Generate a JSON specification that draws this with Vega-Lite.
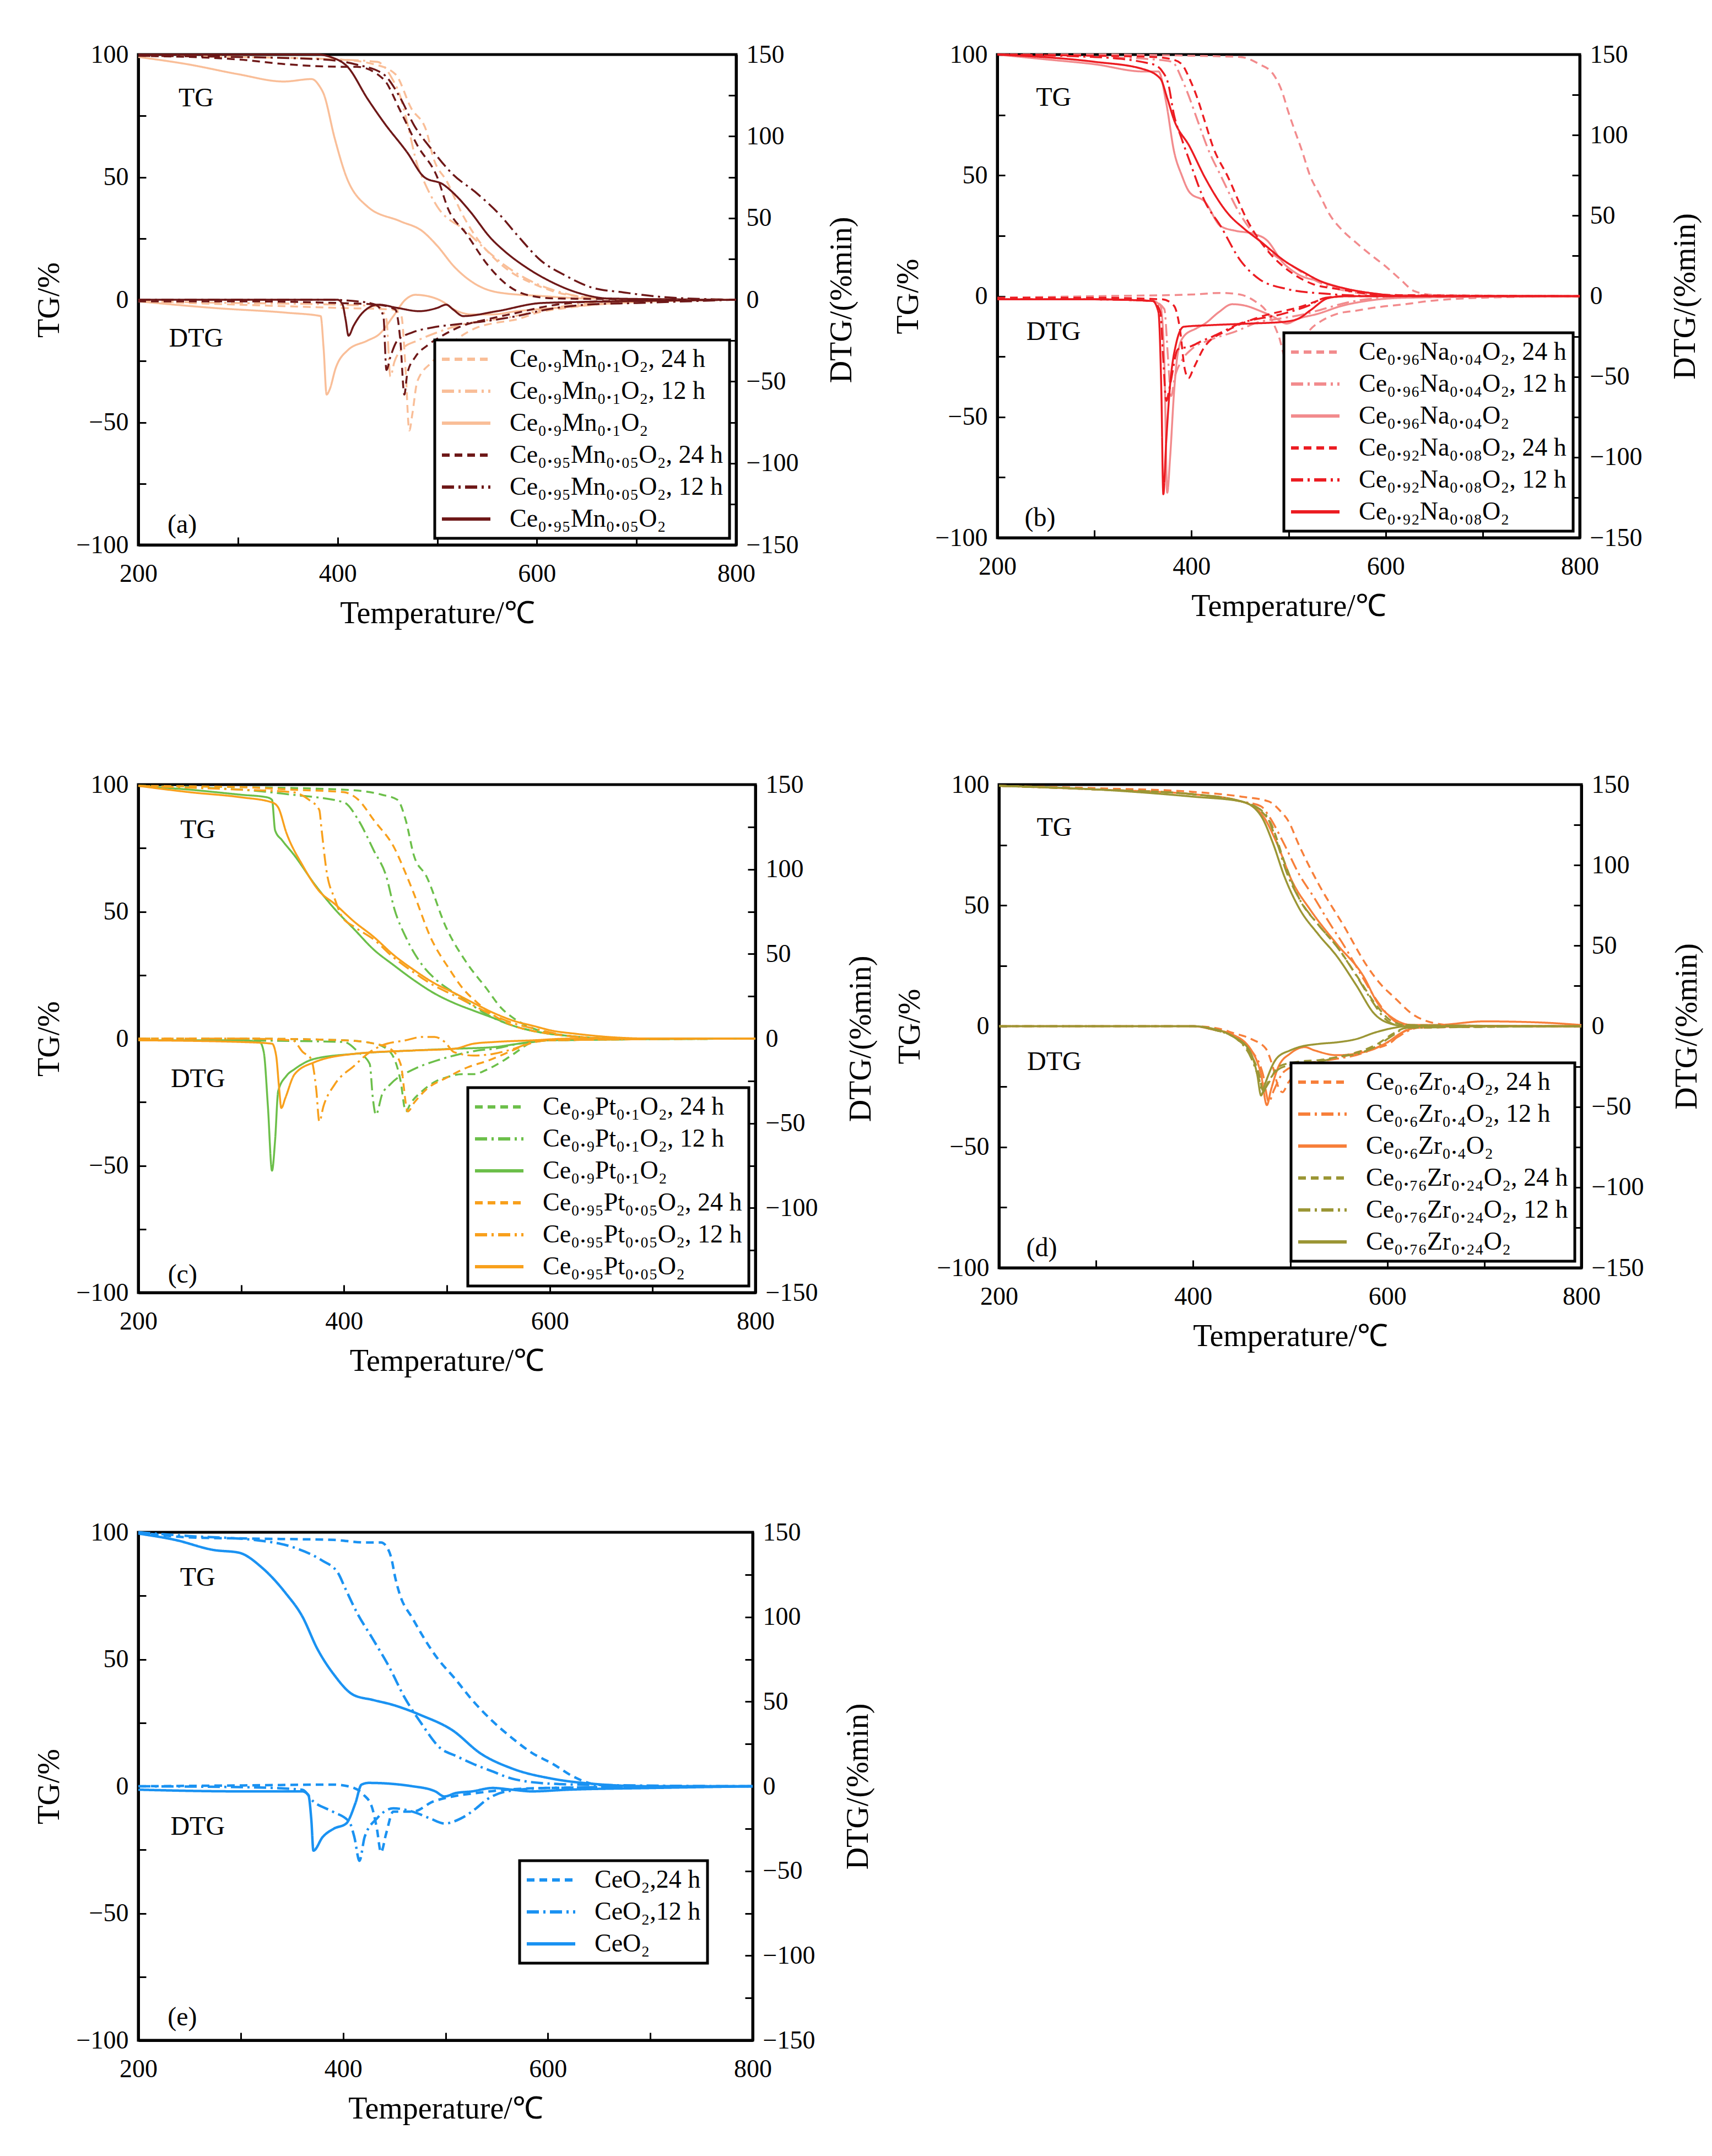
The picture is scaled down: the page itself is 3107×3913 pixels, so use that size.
{
  "$schema": "https://vega.github.io/schema/vega-lite/v6.json",
  "background": "white",
  "padding": {"left": 58, "top": 73, "right": 10, "bottom": 10},
  "datasets": {
    "names": [
      {"s": "a1", "n": "Ce₀.₉Mn₀.₁O₂, 24 h"}, {"s": "a2", "n": "Ce₀.₉Mn₀.₁O₂, 12 h"}, {"s": "a3", "n": "Ce₀.₉Mn₀.₁O₂"},
      {"s": "a4", "n": "Ce₀.₉₅Mn₀.₀₅O₂, 24 h"}, {"s": "a5", "n": "Ce₀.₉₅Mn₀.₀₅O₂, 12 h"}, {"s": "a6", "n": "Ce₀.₉₅Mn₀.₀₅O₂"},
      {"s": "b1", "n": "Ce₀.₉₆Na₀.₀₄O₂, 24 h"}, {"s": "b2", "n": "Ce₀.₉₆Na₀.₀₄O₂, 12 h"}, {"s": "b3", "n": "Ce₀.₉₆Na₀.₀₄O₂"},
      {"s": "b4", "n": "Ce₀.₉₂Na₀.₀₈O₂, 24 h"}, {"s": "b5", "n": "Ce₀.₉₂Na₀.₀₈O₂, 12 h"}, {"s": "b6", "n": "Ce₀.₉₂Na₀.₀₈O₂"},
      {"s": "c1", "n": "Ce₀.₉Pt₀.₁O₂, 24 h"}, {"s": "c2", "n": "Ce₀.₉Pt₀.₁O₂, 12 h"}, {"s": "c3", "n": "Ce₀.₉Pt₀.₁O₂"},
      {"s": "c4", "n": "Ce₀.₉₅Pt₀.₀₅O₂, 24 h"}, {"s": "c5", "n": "Ce₀.₉₅Pt₀.₀₅O₂, 12 h"}, {"s": "c6", "n": "Ce₀.₉₅Pt₀.₀₅O₂"},
      {"s": "d1", "n": "Ce₀.₆Zr₀.₄O₂, 24 h"}, {"s": "d2", "n": "Ce₀.₆Zr₀.₄O₂, 12 h"}, {"s": "d3", "n": "Ce₀.₆Zr₀.₄O₂"},
      {"s": "d4", "n": "Ce₀.₇₆Zr₀.₂₄O₂, 24 h"}, {"s": "d5", "n": "Ce₀.₇₆Zr₀.₂₄O₂, 12 h"}, {"s": "d6", "n": "Ce₀.₇₆Zr₀.₂₄O₂"},
      {"s": "e1", "n": "CeO₂,24 h"}, {"s": "e2", "n": "CeO₂,12 h"}, {"s": "e3", "n": "CeO₂"}
    ],
    "curves": [
      {"s":"a1","t":200,"g":99.5},{"s":"a1","t":300,"g":99},{"s":"a1","t":400,"g":98},{"s":"a1","t":437,"g":96},{"s":"a1","t":458,"g":92},{"s":"a1","t":474,"g":78},{"s":"a1","t":489,"g":69},{"s":"a1","t":496,"g":58},{"s":"a1","t":510,"g":48},{"s":"a1","t":525,"g":35},{"s":"a1","t":540,"g":25},{"s":"a1","t":557,"g":17},{"s":"a1","t":575,"g":11},{"s":"a1","t":594,"g":7},{"s":"a1","t":620,"g":3},{"s":"a1","t":650,"g":1},{"s":"a1","t":700,"g":0},{"s":"a1","t":800,"g":0},
      {"s":"a1","t":200,"d":-1},{"s":"a1","t":300,"d":-3},{"s":"a1","t":400,"d":-5},{"s":"a1","t":455,"d":-6},{"s":"a1","t":464,"d":-10},{"s":"a1","t":468,"d":-40},{"s":"a1","t":472,"d":-80},{"s":"a1","t":475,"d":-70},{"s":"a1","t":480,"d":-50},{"s":"a1","t":495,"d":-38},{"s":"a1","t":505,"d":-32},{"s":"a1","t":520,"d":-24},{"s":"a1","t":540,"d":-17},{"s":"a1","t":560,"d":-14},{"s":"a1","t":580,"d":-12},{"s":"a1","t":600,"d":-8},{"s":"a1","t":630,"d":-5},{"s":"a1","t":680,"d":-2},{"s":"a1","t":800,"d":0},
      {"s":"a2","t":200,"g":99.5},{"s":"a2","t":300,"g":99},{"s":"a2","t":400,"g":98},{"s":"a2","t":440,"g":97},{"s":"a2","t":455,"g":90},{"s":"a2","t":462,"g":84},{"s":"a2","t":470,"g":72},{"s":"a2","t":480,"g":55},{"s":"a2","t":487,"g":48},{"s":"a2","t":500,"g":38},{"s":"a2","t":529,"g":28},{"s":"a2","t":550,"g":20},{"s":"a2","t":568,"g":14},{"s":"a2","t":592,"g":8},{"s":"a2","t":616,"g":4},{"s":"a2","t":650,"g":1},{"s":"a2","t":700,"g":0},{"s":"a2","t":800,"g":0},
      {"s":"a2","t":200,"d":-1},{"s":"a2","t":300,"d":-2},{"s":"a2","t":400,"d":-3},{"s":"a2","t":440,"d":-4},{"s":"a2","t":449,"d":-12},{"s":"a2","t":453,"d":-47},{"s":"a2","t":457,"d":-38},{"s":"a2","t":465,"d":-30},{"s":"a2","t":480,"d":-25},{"s":"a2","t":500,"d":-20},{"s":"a2","t":520,"d":-16},{"s":"a2","t":545,"d":-13},{"s":"a2","t":570,"d":-11},{"s":"a2","t":600,"d":-7},{"s":"a2","t":640,"d":-3},{"s":"a2","t":700,"d":-1},{"s":"a2","t":800,"d":0},
      {"s":"a3","t":200,"g":99},{"s":"a3","t":250,"g":96},{"s":"a3","t":300,"g":92},{"s":"a3","t":346,"g":89},{"s":"a3","t":374,"g":90},{"s":"a3","t":382,"g":87},{"s":"a3","t":386,"g":84},{"s":"a3","t":397,"g":66},{"s":"a3","t":408,"g":51},{"s":"a3","t":430,"g":38},{"s":"a3","t":463,"g":32},{"s":"a3","t":485,"g":28},{"s":"a3","t":500,"g":22},{"s":"a3","t":517,"g":13.5},{"s":"a3","t":540,"g":6},{"s":"a3","t":561,"g":3},{"s":"a3","t":605,"g":1.5},{"s":"a3","t":650,"g":0.5},{"s":"a3","t":800,"g":0},
      {"s":"a3","t":200,"d":-1},{"s":"a3","t":275,"d":-5},{"s":"a3","t":350,"d":-8},{"s":"a3","t":383,"d":-10},{"s":"a3","t":386,"d":-30},{"s":"a3","t":389,"d":-58},{"s":"a3","t":392,"d":-55},{"s":"a3","t":398,"d":-42},{"s":"a3","t":410,"d":-31},{"s":"a3","t":430,"d":-25},{"s":"a3","t":442,"d":-21},{"s":"a3","t":456,"d":-10},{"s":"a3","t":468,"d":0},{"s":"a3","t":478,"d":3},{"s":"a3","t":492,"d":2},{"s":"a3","t":505,"d":-1},{"s":"a3","t":517,"d":-6},{"s":"a3","t":535,"d":-9},{"s":"a3","t":555,"d":-9},{"s":"a3","t":580,"d":-7},{"s":"a3","t":620,"d":-5},{"s":"a3","t":680,"d":-2},{"s":"a3","t":800,"d":0},
      {"s":"a4","t":200,"g":99.5},{"s":"a4","t":300,"g":98},{"s":"a4","t":350,"g":96},{"s":"a4","t":407,"g":95},{"s":"a4","t":419,"g":95},{"s":"a4","t":446,"g":90},{"s":"a4","t":463,"g":77},{"s":"a4","t":480,"g":63},{"s":"a4","t":500,"g":50},{"s":"a4","t":511,"g":37},{"s":"a4","t":529,"g":27},{"s":"a4","t":552,"g":13.5},{"s":"a4","t":572,"g":5.5},{"s":"a4","t":590,"g":2},{"s":"a4","t":620,"g":0.5},{"s":"a4","t":800,"g":0},
      {"s":"a4","t":200,"d":-1},{"s":"a4","t":300,"d":-1},{"s":"a4","t":400,"d":-2},{"s":"a4","t":440,"d":-3},{"s":"a4","t":458,"d":-6},{"s":"a4","t":463,"d":-25},{"s":"a4","t":467,"d":-58},{"s":"a4","t":470,"d":-45},{"s":"a4","t":478,"d":-35},{"s":"a4","t":490,"d":-28},{"s":"a4","t":505,"d":-22},{"s":"a4","t":525,"d":-16},{"s":"a4","t":550,"d":-12},{"s":"a4","t":580,"d":-8},{"s":"a4","t":610,"d":-4},{"s":"a4","t":660,"d":-1},{"s":"a4","t":800,"d":0},
      {"s":"a5","t":200,"g":99.5},{"s":"a5","t":300,"g":99},{"s":"a5","t":385,"g":98},{"s":"a5","t":418,"g":96},{"s":"a5","t":446,"g":92},{"s":"a5","t":462,"g":83},{"s":"a5","t":477,"g":71},{"s":"a5","t":495,"g":61},{"s":"a5","t":516,"g":51},{"s":"a5","t":538,"g":44},{"s":"a5","t":562,"g":35},{"s":"a5","t":581,"g":26},{"s":"a5","t":604,"g":16},{"s":"a5","t":628,"g":10},{"s":"a5","t":655,"g":5},{"s":"a5","t":687,"g":3},{"s":"a5","t":730,"g":1},{"s":"a5","t":800,"g":0},
      {"s":"a5","t":200,"d":0},{"s":"a5","t":300,"d":0},{"s":"a5","t":390,"d":0},{"s":"a5","t":420,"d":-1},{"s":"a5","t":438,"d":-3},{"s":"a5","t":446,"d":-10},{"s":"a5","t":449,"d":-43},{"s":"a5","t":453,"d":-35},{"s":"a5","t":460,"d":-25},{"s":"a5","t":475,"d":-20},{"s":"a5","t":495,"d":-17},{"s":"a5","t":520,"d":-15},{"s":"a5","t":550,"d":-13},{"s":"a5","t":580,"d":-10},{"s":"a5","t":610,"d":-6},{"s":"a5","t":650,"d":-3},{"s":"a5","t":700,"d":-2},{"s":"a5","t":800,"d":0},
      {"s":"a6","t":200,"g":100},{"s":"a6","t":300,"g":100},{"s":"a6","t":380,"g":100},{"s":"a6","t":393,"g":99},{"s":"a6","t":410,"g":95},{"s":"a6","t":430,"g":82},{"s":"a6","t":447,"g":72},{"s":"a6","t":470,"g":60},{"s":"a6","t":487,"g":50},{"s":"a6","t":506,"g":47},{"s":"a6","t":520,"g":42},{"s":"a6","t":533,"g":36},{"s":"a6","t":554,"g":25},{"s":"a6","t":567,"g":20},{"s":"a6","t":590,"g":13},{"s":"a6","t":611,"g":8},{"s":"a6","t":644,"g":2.5},{"s":"a6","t":672,"g":0.5},{"s":"a6","t":800,"g":0},
      {"s":"a6","t":200,"d":0},{"s":"a6","t":300,"d":0},{"s":"a6","t":400,"d":0},{"s":"a6","t":405,"d":-3},{"s":"a6","t":408,"d":-12},{"s":"a6","t":411,"d":-22},{"s":"a6","t":416,"d":-16},{"s":"a6","t":425,"d":-8},{"s":"a6","t":441,"d":-3},{"s":"a6","t":460,"d":-5},{"s":"a6","t":482,"d":-7},{"s":"a6","t":500,"d":-5},{"s":"a6","t":509,"d":-3},{"s":"a6","t":516,"d":-6},{"s":"a6","t":526,"d":-10},{"s":"a6","t":560,"d":-7},{"s":"a6","t":605,"d":-2},{"s":"a6","t":680,"d":-1},{"s":"a6","t":800,"d":0},

      {"s":"b1","t":200,"g":100},{"s":"b1","t":300,"g":100},{"s":"b1","t":400,"g":99.5},{"s":"b1","t":450,"g":99},{"s":"b1","t":470,"g":96},{"s":"b1","t":484,"g":92},{"s":"b1","t":493,"g":85},{"s":"b1","t":500,"g":76},{"s":"b1","t":506,"g":69},{"s":"b1","t":514,"g":60},{"s":"b1","t":522,"g":50},{"s":"b1","t":532,"g":42},{"s":"b1","t":542,"g":34},{"s":"b1","t":556,"g":27},{"s":"b1","t":570,"g":22},{"s":"b1","t":585,"g":17},{"s":"b1","t":598,"g":13},{"s":"b1","t":615,"g":7},{"s":"b1","t":630,"g":2},{"s":"b1","t":650,"g":0.5},{"s":"b1","t":800,"g":0},
      {"s":"b1","t":200,"d":-1},{"s":"b1","t":300,"d":0},{"s":"b1","t":400,"d":1},{"s":"b1","t":430,"d":2},{"s":"b1","t":450,"d":1},{"s":"b1","t":465,"d":-3},{"s":"b1","t":478,"d":-10},{"s":"b1","t":490,"d":-25},{"s":"b1","t":498,"d":-40},{"s":"b1","t":504,"d":-38},{"s":"b1","t":512,"d":-30},{"s":"b1","t":522,"d":-21},{"s":"b1","t":535,"d":-15},{"s":"b1","t":550,"d":-11},{"s":"b1","t":570,"d":-9},{"s":"b1","t":590,"d":-7},{"s":"b1","t":620,"d":-5},{"s":"b1","t":645,"d":-3},{"s":"b1","t":700,"d":-1},{"s":"b1","t":800,"d":0},
      {"s":"b2","t":200,"g":100},{"s":"b2","t":300,"g":99},{"s":"b2","t":360,"g":98},{"s":"b2","t":380,"g":97},{"s":"b2","t":390,"g":90},{"s":"b2","t":398,"g":82},{"s":"b2","t":406,"g":73},{"s":"b2","t":418,"g":60},{"s":"b2","t":430,"g":50},{"s":"b2","t":450,"g":34},{"s":"b2","t":470,"g":23},{"s":"b2","t":485,"g":17},{"s":"b2","t":502,"g":13},{"s":"b2","t":525,"g":7},{"s":"b2","t":550,"g":3},{"s":"b2","t":600,"g":0.5},{"s":"b2","t":800,"g":0},
      {"s":"b2","t":200,"d":-2},{"s":"b2","t":300,"d":-2},{"s":"b2","t":360,"d":-3},{"s":"b2","t":372,"d":-8},{"s":"b2","t":376,"d":-40},{"s":"b2","t":379,"d":-62},{"s":"b2","t":383,"d":-50},{"s":"b2","t":390,"d":-40},{"s":"b2","t":400,"d":-33},{"s":"b2","t":420,"d":-27},{"s":"b2","t":445,"d":-22},{"s":"b2","t":470,"d":-16},{"s":"b2","t":490,"d":-14},{"s":"b2","t":510,"d":-12},{"s":"b2","t":530,"d":-9},{"s":"b2","t":560,"d":-4},{"s":"b2","t":600,"d":-1},{"s":"b2","t":800,"d":0},
      {"s":"b3","t":200,"g":100},{"s":"b3","t":250,"g":98},{"s":"b3","t":300,"g":96},{"s":"b3","t":350,"g":93},{"s":"b3","t":366,"g":93},{"s":"b3","t":374,"g":80},{"s":"b3","t":382,"g":60},{"s":"b3","t":390,"g":50},{"s":"b3","t":398,"g":43},{"s":"b3","t":414,"g":39},{"s":"b3","t":430,"g":29},{"s":"b3","t":446,"g":27},{"s":"b3","t":462,"g":26},{"s":"b3","t":478,"g":23},{"s":"b3","t":494,"g":14},{"s":"b3","t":510,"g":9},{"s":"b3","t":534,"g":6},{"s":"b3","t":560,"g":3},{"s":"b3","t":590,"g":1},{"s":"b3","t":620,"g":0},{"s":"b3","t":800,"g":0},
      {"s":"b3","t":200,"d":-2},{"s":"b3","t":300,"d":-2},{"s":"b3","t":360,"d":-3},{"s":"b3","t":368,"d":-6},{"s":"b3","t":372,"d":-40},{"s":"b3","t":375,"d":-122},{"s":"b3","t":378,"d":-100},{"s":"b3","t":382,"d":-60},{"s":"b3","t":386,"d":-35},{"s":"b3","t":392,"d":-25},{"s":"b3","t":405,"d":-20},{"s":"b3","t":414,"d":-17},{"s":"b3","t":428,"d":-10},{"s":"b3","t":442,"d":-5},{"s":"b3","t":456,"d":-6},{"s":"b3","t":470,"d":-9},{"s":"b3","t":485,"d":-13},{"s":"b3","t":498,"d":-17},{"s":"b3","t":510,"d":-14},{"s":"b3","t":530,"d":-11},{"s":"b3","t":555,"d":-6},{"s":"b3","t":580,"d":-3},{"s":"b3","t":620,"d":-1},{"s":"b3","t":800,"d":0},
      {"s":"b4","t":200,"g":100},{"s":"b4","t":300,"g":99.5},{"s":"b4","t":360,"g":99},{"s":"b4","t":380,"g":98},{"s":"b4","t":390,"g":96},{"s":"b4","t":398,"g":90},{"s":"b4","t":406,"g":82},{"s":"b4","t":414,"g":72},{"s":"b4","t":422,"g":62},{"s":"b4","t":438,"g":49},{"s":"b4","t":458,"g":31},{"s":"b4","t":478,"g":19},{"s":"b4","t":502,"g":10},{"s":"b4","t":525,"g":5},{"s":"b4","t":550,"g":3},{"s":"b4","t":600,"g":0.5},{"s":"b4","t":800,"g":0},
      {"s":"b4","t":200,"d":-1},{"s":"b4","t":300,"d":-1},{"s":"b4","t":370,"d":-2},{"s":"b4","t":382,"d":-6},{"s":"b4","t":388,"d":-20},{"s":"b4","t":393,"d":-45},{"s":"b4","t":397,"d":-51},{"s":"b4","t":402,"d":-45},{"s":"b4","t":414,"d":-31},{"s":"b4","t":438,"d":-21},{"s":"b4","t":470,"d":-13},{"s":"b4","t":510,"d":-7},{"s":"b4","t":542,"d":-1},{"s":"b4","t":560,"d":0},{"s":"b4","t":800,"d":0},
      {"s":"b5","t":200,"g":100},{"s":"b5","t":300,"g":99},{"s":"b5","t":360,"g":96},{"s":"b5","t":370,"g":93},{"s":"b5","t":376,"g":88},{"s":"b5","t":382,"g":75},{"s":"b5","t":390,"g":65},{"s":"b5","t":398,"g":56},{"s":"b5","t":414,"g":39},{"s":"b5","t":430,"g":29},{"s":"b5","t":450,"g":15},{"s":"b5","t":470,"g":7},{"s":"b5","t":498,"g":3},{"s":"b5","t":538,"g":1},{"s":"b5","t":600,"g":0},{"s":"b5","t":800,"g":0},
      {"s":"b5","t":200,"d":-2},{"s":"b5","t":300,"d":-2},{"s":"b5","t":360,"d":-3},{"s":"b5","t":368,"d":-10},{"s":"b5","t":371,"d":-40},{"s":"b5","t":374,"d":-65},{"s":"b5","t":378,"d":-55},{"s":"b5","t":386,"d":-33},{"s":"b5","t":400,"d":-31},{"s":"b5","t":410,"d":-28},{"s":"b5","t":422,"d":-25},{"s":"b5","t":450,"d":-17},{"s":"b5","t":494,"d":-11},{"s":"b5","t":520,"d":-6},{"s":"b5","t":538,"d":-1},{"s":"b5","t":560,"d":0},{"s":"b5","t":800,"d":0},
      {"s":"b6","t":200,"g":100},{"s":"b6","t":300,"g":97},{"s":"b6","t":350,"g":94},{"s":"b6","t":368,"g":90},{"s":"b6","t":375,"g":82},{"s":"b6","t":382,"g":73},{"s":"b6","t":398,"g":62},{"s":"b6","t":414,"g":49},{"s":"b6","t":438,"g":34},{"s":"b6","t":454,"g":28},{"s":"b6","t":470,"g":23},{"s":"b6","t":498,"g":14},{"s":"b6","t":515,"g":10},{"s":"b6","t":534,"g":6},{"s":"b6","t":560,"g":3},{"s":"b6","t":590,"g":1},{"s":"b6","t":620,"g":0},{"s":"b6","t":800,"g":0},
      {"s":"b6","t":200,"d":-2},{"s":"b6","t":300,"d":-2},{"s":"b6","t":360,"d":-3},{"s":"b6","t":366,"d":-10},{"s":"b6","t":369,"d":-60},{"s":"b6","t":371,"d":-123},{"s":"b6","t":374,"d":-90},{"s":"b6","t":378,"d":-55},{"s":"b6","t":384,"d":-30},{"s":"b6","t":392,"d":-19},{"s":"b6","t":420,"d":-18},{"s":"b6","t":460,"d":-17},{"s":"b6","t":494,"d":-16},{"s":"b6","t":510,"d":-14},{"s":"b6","t":522,"d":-9},{"s":"b6","t":542,"d":-1},{"s":"b6","t":560,"d":0},{"s":"b6","t":800,"d":0},

      {"s":"c1","t":200,"g":99.5},{"s":"c1","t":300,"g":99},{"s":"c1","t":400,"g":98},{"s":"c1","t":437,"g":96},{"s":"c1","t":452,"g":94},{"s":"c1","t":460,"g":86},{"s":"c1","t":468,"g":72},{"s":"c1","t":480,"g":64},{"s":"c1","t":499,"g":44},{"s":"c1","t":519,"g":30},{"s":"c1","t":538,"g":20},{"s":"c1","t":553,"g":12},{"s":"c1","t":565,"g":8},{"s":"c1","t":584,"g":4},{"s":"c1","t":620,"g":1},{"s":"c1","t":660,"g":0},{"s":"c1","t":800,"g":0},
      {"s":"c1","t":200,"d":0},{"s":"c1","t":300,"d":0},{"s":"c1","t":400,"d":-1},{"s":"c1","t":430,"d":-3},{"s":"c1","t":445,"d":-8},{"s":"c1","t":455,"d":-25},{"s":"c1","t":460,"d":-43},{"s":"c1","t":465,"d":-38},{"s":"c1","t":476,"d":-31},{"s":"c1","t":490,"d":-25},{"s":"c1","t":499,"d":-23},{"s":"c1","t":515,"d":-21},{"s":"c1","t":526,"d":-21},{"s":"c1","t":540,"d":-18},{"s":"c1","t":555,"d":-13},{"s":"c1","t":565,"d":-9},{"s":"c1","t":584,"d":-2},{"s":"c1","t":600,"d":-1},{"s":"c1","t":800,"d":0},
      {"s":"c2","t":200,"g":99.5},{"s":"c2","t":300,"g":98},{"s":"c2","t":350,"g":96},{"s":"c2","t":400,"g":93},{"s":"c2","t":414,"g":86},{"s":"c2","t":429,"g":74},{"s":"c2","t":441,"g":64},{"s":"c2","t":449,"g":51},{"s":"c2","t":460,"g":40},{"s":"c2","t":476,"g":29},{"s":"c2","t":490,"g":23},{"s":"c2","t":507,"g":18},{"s":"c2","t":525,"g":13},{"s":"c2","t":546,"g":8},{"s":"c2","t":565,"g":5},{"s":"c2","t":584,"g":3},{"s":"c2","t":620,"g":1},{"s":"c2","t":660,"g":0},{"s":"c2","t":800,"g":0},
      {"s":"c2","t":200,"d":0},{"s":"c2","t":300,"d":-1},{"s":"c2","t":400,"d":-2},{"s":"c2","t":414,"d":-8},{"s":"c2","t":425,"d":-15},{"s":"c2","t":428,"d":-35},{"s":"c2","t":431,"d":-45},{"s":"c2","t":437,"d":-33},{"s":"c2","t":445,"d":-27},{"s":"c2","t":468,"d":-18},{"s":"c2","t":490,"d":-13},{"s":"c2","t":507,"d":-10},{"s":"c2","t":530,"d":-7},{"s":"c2","t":546,"d":-6},{"s":"c2","t":570,"d":-3},{"s":"c2","t":600,"d":-1},{"s":"c2","t":800,"d":0},
      {"s":"c3","t":200,"g":99.5},{"s":"c3","t":250,"g":98},{"s":"c3","t":300,"g":96},{"s":"c3","t":325,"g":95},{"s":"c3","t":330,"g":94},{"s":"c3","t":333,"g":82},{"s":"c3","t":340,"g":78},{"s":"c3","t":352,"g":72},{"s":"c3","t":371,"g":61},{"s":"c3","t":391,"g":51},{"s":"c3","t":410,"g":43},{"s":"c3","t":429,"g":35},{"s":"c3","t":448,"g":29},{"s":"c3","t":468,"g":23},{"s":"c3","t":487,"g":18},{"s":"c3","t":507,"g":14},{"s":"c3","t":526,"g":11},{"s":"c3","t":546,"g":8},{"s":"c3","t":565,"g":5},{"s":"c3","t":584,"g":3},{"s":"c3","t":620,"g":1},{"s":"c3","t":662,"g":0},{"s":"c3","t":800,"g":0},
      {"s":"c3","t":200,"d":-1},{"s":"c3","t":300,"d":-1},{"s":"c3","t":318,"d":-2},{"s":"c3","t":322,"d":-8},{"s":"c3","t":326,"d":-40},{"s":"c3","t":330,"d":-78},{"s":"c3","t":333,"d":-60},{"s":"c3","t":336,"d":-31},{"s":"c3","t":344,"d":-22},{"s":"c3","t":352,"d":-18},{"s":"c3","t":371,"d":-12},{"s":"c3","t":410,"d":-9},{"s":"c3","t":468,"d":-7},{"s":"c3","t":507,"d":-6},{"s":"c3","t":546,"d":-5},{"s":"c3","t":570,"d":-3},{"s":"c3","t":584,"d":-2},{"s":"c3","t":600,"d":-1},{"s":"c3","t":800,"d":0},
      {"s":"c4","t":200,"g":99.5},{"s":"c4","t":300,"g":99},{"s":"c4","t":350,"g":98},{"s":"c4","t":400,"g":97},{"s":"c4","t":414,"g":94},{"s":"c4","t":429,"g":86},{"s":"c4","t":449,"g":75},{"s":"c4","t":460,"g":65},{"s":"c4","t":468,"g":57},{"s":"c4","t":484,"g":40},{"s":"c4","t":503,"g":27},{"s":"c4","t":515,"g":20},{"s":"c4","t":530,"g":14},{"s":"c4","t":546,"g":9},{"s":"c4","t":565,"g":5},{"s":"c4","t":584,"g":3},{"s":"c4","t":620,"g":1},{"s":"c4","t":660,"g":0},{"s":"c4","t":800,"g":0},
      {"s":"c4","t":200,"d":0},{"s":"c4","t":300,"d":0},{"s":"c4","t":400,"d":-1},{"s":"c4","t":430,"d":-3},{"s":"c4","t":445,"d":-6},{"s":"c4","t":455,"d":-15},{"s":"c4","t":462,"d":-43},{"s":"c4","t":468,"d":-38},{"s":"c4","t":480,"d":-30},{"s":"c4","t":500,"d":-23},{"s":"c4","t":520,"d":-17},{"s":"c4","t":540,"d":-13},{"s":"c4","t":560,"d":-8},{"s":"c4","t":580,"d":-3},{"s":"c4","t":600,"d":-1},{"s":"c4","t":800,"d":0},
      {"s":"c5","t":200,"g":99.5},{"s":"c5","t":300,"g":98},{"s":"c5","t":350,"g":97},{"s":"c5","t":366,"g":94},{"s":"c5","t":376,"g":90},{"s":"c5","t":378,"g":83},{"s":"c5","t":383,"g":66},{"s":"c5","t":391,"g":55},{"s":"c5","t":398,"g":48},{"s":"c5","t":410,"g":44},{"s":"c5","t":429,"g":39},{"s":"c5","t":448,"g":32},{"s":"c5","t":468,"g":26},{"s":"c5","t":487,"g":21},{"s":"c5","t":507,"g":17},{"s":"c5","t":526,"g":13},{"s":"c5","t":546,"g":9},{"s":"c5","t":565,"g":6},{"s":"c5","t":584,"g":4},{"s":"c5","t":620,"g":1},{"s":"c5","t":660,"g":0},{"s":"c5","t":800,"g":0},
      {"s":"c5","t":200,"d":0},{"s":"c5","t":300,"d":0},{"s":"c5","t":350,"d":-1},{"s":"c5","t":360,"d":-8},{"s":"c5","t":368,"d":-12},{"s":"c5","t":373,"d":-30},{"s":"c5","t":376,"d":-49},{"s":"c5","t":380,"d":-40},{"s":"c5","t":391,"d":-27},{"s":"c5","t":410,"d":-16},{"s":"c5","t":425,"d":-8},{"s":"c5","t":437,"d":-4},{"s":"c5","t":460,"d":-1},{"s":"c5","t":476,"d":1},{"s":"c5","t":488,"d":1},{"s":"c5","t":498,"d":-2},{"s":"c5","t":507,"d":-8},{"s":"c5","t":526,"d":-10},{"s":"c5","t":545,"d":-9},{"s":"c5","t":565,"d":-6},{"s":"c5","t":584,"d":-2},{"s":"c5","t":600,"d":-1},{"s":"c5","t":800,"d":0},
      {"s":"c6","t":200,"g":99.5},{"s":"c6","t":250,"g":97},{"s":"c6","t":300,"g":95},{"s":"c6","t":330,"g":93},{"s":"c6","t":336,"g":91},{"s":"c6","t":344,"g":81},{"s":"c6","t":360,"g":68},{"s":"c6","t":376,"g":58},{"s":"c6","t":391,"g":53},{"s":"c6","t":410,"g":46},{"s":"c6","t":429,"g":40},{"s":"c6","t":448,"g":33},{"s":"c6","t":468,"g":27},{"s":"c6","t":487,"g":22},{"s":"c6","t":507,"g":18},{"s":"c6","t":526,"g":14},{"s":"c6","t":546,"g":10},{"s":"c6","t":565,"g":7},{"s":"c6","t":584,"g":5},{"s":"c6","t":604,"g":3},{"s":"c6","t":623,"g":2},{"s":"c6","t":662,"g":0.5},{"s":"c6","t":700,"g":0},{"s":"c6","t":800,"g":0},
      {"s":"c6","t":200,"d":-1},{"s":"c6","t":300,"d":-2},{"s":"c6","t":330,"d":-3},{"s":"c6","t":334,"d":-10},{"s":"c6","t":337,"d":-30},{"s":"c6","t":339,"d":-41},{"s":"c6","t":343,"d":-35},{"s":"c6","t":352,"d":-21},{"s":"c6","t":371,"d":-14},{"s":"c6","t":410,"d":-9},{"s":"c6","t":468,"d":-7},{"s":"c6","t":507,"d":-6},{"s":"c6","t":526,"d":-3},{"s":"c6","t":546,"d":-2},{"s":"c6","t":584,"d":-1},{"s":"c6","t":620,"d":0},{"s":"c6","t":800,"d":0},

      {"s":"d1","t":200,"g":99.5},{"s":"d1","t":300,"g":98.5},{"s":"d1","t":400,"g":97},{"s":"d1","t":450,"g":95},{"s":"d1","t":478,"g":93},{"s":"d1","t":490,"g":89},{"s":"d1","t":498,"g":85},{"s":"d1","t":509,"g":75},{"s":"d1","t":529,"g":59},{"s":"d1","t":556,"g":41},{"s":"d1","t":579,"g":25},{"s":"d1","t":594,"g":17},{"s":"d1","t":607,"g":12},{"s":"d1","t":626,"g":5},{"s":"d1","t":646,"g":1.5},{"s":"d1","t":670,"g":0.3},{"s":"d1","t":800,"g":0},
      {"s":"d1","t":200,"d":0},{"s":"d1","t":400,"d":0},{"s":"d1","t":430,"d":-2},{"s":"d1","t":440,"d":-4},{"s":"d1","t":460,"d":-8},{"s":"d1","t":475,"d":-14},{"s":"d1","t":482,"d":-25},{"s":"d1","t":488,"d":-38},{"s":"d1","t":492,"d":-41},{"s":"d1","t":498,"d":-35},{"s":"d1","t":509,"d":-28},{"s":"d1","t":528,"d":-22},{"s":"d1","t":548,"d":-20},{"s":"d1","t":570,"d":-16},{"s":"d1","t":587,"d":-14},{"s":"d1","t":604,"d":-10},{"s":"d1","t":615,"d":-4},{"s":"d1","t":630,"d":-1},{"s":"d1","t":800,"d":0},
      {"s":"d2","t":200,"g":99.5},{"s":"d2","t":300,"g":98},{"s":"d2","t":400,"g":96},{"s":"d2","t":450,"g":93},{"s":"d2","t":470,"g":91},{"s":"d2","t":478,"g":87},{"s":"d2","t":493,"g":76},{"s":"d2","t":509,"g":63},{"s":"d2","t":525,"g":53},{"s":"d2","t":540,"g":43},{"s":"d2","t":556,"g":33},{"s":"d2","t":572,"g":22},{"s":"d2","t":587,"g":12},{"s":"d2","t":600,"g":5},{"s":"d2","t":613,"g":1},{"s":"d2","t":640,"g":0},{"s":"d2","t":800,"g":0},
      {"s":"d2","t":200,"d":0},{"s":"d2","t":400,"d":0},{"s":"d2","t":420,"d":-2},{"s":"d2","t":440,"d":-6},{"s":"d2","t":460,"d":-15},{"s":"d2","t":472,"d":-30},{"s":"d2","t":478,"d":-47},{"s":"d2","t":483,"d":-40},{"s":"d2","t":494,"d":-28},{"s":"d2","t":515,"d":-23},{"s":"d2","t":529,"d":-22},{"s":"d2","t":550,"d":-20},{"s":"d2","t":568,"d":-18},{"s":"d2","t":590,"d":-13},{"s":"d2","t":607,"d":-8},{"s":"d2","t":625,"d":-2},{"s":"d2","t":640,"d":0},{"s":"d2","t":800,"d":0},
      {"s":"d3","t":200,"g":99.5},{"s":"d3","t":300,"g":98},{"s":"d3","t":400,"g":96},{"s":"d3","t":450,"g":93},{"s":"d3","t":472,"g":87},{"s":"d3","t":486,"g":76},{"s":"d3","t":502,"g":60},{"s":"d3","t":521,"g":48},{"s":"d3","t":548,"g":34},{"s":"d3","t":575,"g":21},{"s":"d3","t":591,"g":9},{"s":"d3","t":607,"g":3},{"s":"d3","t":626,"g":0.5},{"s":"d3","t":650,"g":0.5},{"s":"d3","t":700,"g":2},{"s":"d3","t":760,"g":1.5},{"s":"d3","t":800,"g":0.5},
      {"s":"d3","t":200,"d":0},{"s":"d3","t":400,"d":0},{"s":"d3","t":420,"d":-2},{"s":"d3","t":440,"d":-5},{"s":"d3","t":460,"d":-15},{"s":"d3","t":470,"d":-30},{"s":"d3","t":476,"d":-49},{"s":"d3","t":480,"d":-40},{"s":"d3","t":488,"d":-25},{"s":"d3","t":500,"d":-17},{"s":"d3","t":515,"d":-13},{"s":"d3","t":525,"d":-15},{"s":"d3","t":548,"d":-18},{"s":"d3","t":568,"d":-17},{"s":"d3","t":587,"d":-14},{"s":"d3","t":600,"d":-10},{"s":"d3","t":615,"d":-4},{"s":"d3","t":630,"d":-1},{"s":"d3","t":700,"d":0},{"s":"d3","t":800,"d":0},
      {"s":"d4","t":200,"g":99.5},{"s":"d4","t":300,"g":98},{"s":"d4","t":400,"g":96},{"s":"d4","t":450,"g":93},{"s":"d4","t":470,"g":89},{"s":"d4","t":480,"g":84},{"s":"d4","t":494,"g":68},{"s":"d4","t":509,"g":53},{"s":"d4","t":529,"g":42},{"s":"d4","t":550,"g":32},{"s":"d4","t":570,"g":20},{"s":"d4","t":590,"g":8},{"s":"d4","t":605,"g":2},{"s":"d4","t":620,"g":0.5},{"s":"d4","t":800,"g":0},
      {"s":"d4","t":200,"d":0},{"s":"d4","t":400,"d":0},{"s":"d4","t":420,"d":-2},{"s":"d4","t":445,"d":-8},{"s":"d4","t":460,"d":-18},{"s":"d4","t":468,"d":-30},{"s":"d4","t":472,"d":-40},{"s":"d4","t":477,"d":-36},{"s":"d4","t":488,"d":-25},{"s":"d4","t":509,"d":-22},{"s":"d4","t":530,"d":-21},{"s":"d4","t":550,"d":-19},{"s":"d4","t":570,"d":-16},{"s":"d4","t":590,"d":-11},{"s":"d4","t":605,"d":-5},{"s":"d4","t":620,"d":-1},{"s":"d4","t":800,"d":0},
      {"s":"d5","t":200,"g":99.5},{"s":"d5","t":300,"g":98},{"s":"d5","t":400,"g":96},{"s":"d5","t":450,"g":93},{"s":"d5","t":474,"g":88},{"s":"d5","t":484,"g":79},{"s":"d5","t":496,"g":64},{"s":"d5","t":509,"g":53},{"s":"d5","t":529,"g":42},{"s":"d5","t":548,"g":33},{"s":"d5","t":568,"g":21},{"s":"d5","t":585,"g":10},{"s":"d5","t":598,"g":3},{"s":"d5","t":610,"g":0.5},{"s":"d5","t":800,"g":0},
      {"s":"d5","t":200,"d":0},{"s":"d5","t":400,"d":0},{"s":"d5","t":420,"d":-2},{"s":"d5","t":445,"d":-8},{"s":"d5","t":460,"d":-20},{"s":"d5","t":468,"d":-33},{"s":"d5","t":472,"d":-41},{"s":"d5","t":477,"d":-35},{"s":"d5","t":490,"d":-26},{"s":"d5","t":510,"d":-23},{"s":"d5","t":530,"d":-22},{"s":"d5","t":550,"d":-19},{"s":"d5","t":570,"d":-17},{"s":"d5","t":590,"d":-12},{"s":"d5","t":605,"d":-6},{"s":"d5","t":620,"d":-1},{"s":"d5","t":800,"d":0},
      {"s":"d6","t":200,"g":99.5},{"s":"d6","t":300,"g":98},{"s":"d6","t":400,"g":95},{"s":"d6","t":450,"g":93},{"s":"d6","t":470,"g":87},{"s":"d6","t":482,"g":76},{"s":"d6","t":494,"g":62},{"s":"d6","t":509,"g":49},{"s":"d6","t":529,"g":38},{"s":"d6","t":548,"g":29},{"s":"d6","t":568,"g":17},{"s":"d6","t":587,"g":5},{"s":"d6","t":600,"g":1.5},{"s":"d6","t":620,"g":0},{"s":"d6","t":800,"g":0},
      {"s":"d6","t":200,"d":0},{"s":"d6","t":400,"d":0},{"s":"d6","t":416,"d":-1},{"s":"d6","t":440,"d":-6},{"s":"d6","t":458,"d":-15},{"s":"d6","t":466,"d":-30},{"s":"d6","t":470,"d":-43},{"s":"d6","t":474,"d":-36},{"s":"d6","t":486,"d":-20},{"s":"d6","t":500,"d":-15},{"s":"d6","t":509,"d":-13},{"s":"d6","t":529,"d":-11},{"s":"d6","t":548,"d":-10},{"s":"d6","t":568,"d":-8},{"s":"d6","t":587,"d":-4},{"s":"d6","t":607,"d":-1},{"s":"d6","t":620,"d":0},{"s":"d6","t":800,"d":0},

      {"s":"e1","t":200,"g":100},{"s":"e1","t":250,"g":98},{"s":"e1","t":313,"g":97.5},{"s":"e1","t":391,"g":97},{"s":"e1","t":420,"g":96},{"s":"e1","t":437,"g":96},{"s":"e1","t":443,"g":94},{"s":"e1","t":447,"g":90},{"s":"e1","t":451,"g":82},{"s":"e1","t":455,"g":76},{"s":"e1","t":468,"g":66},{"s":"e1","t":491,"g":51},{"s":"e1","t":510,"g":42},{"s":"e1","t":526,"g":34},{"s":"e1","t":545,"g":26},{"s":"e1","t":565,"g":19},{"s":"e1","t":585,"g":13},{"s":"e1","t":604,"g":9},{"s":"e1","t":624,"g":4},{"s":"e1","t":643,"g":1},{"s":"e1","t":670,"g":0},{"s":"e1","t":800,"g":0},
      {"s":"e1","t":200,"d":0},{"s":"e1","t":300,"d":0.5},{"s":"e1","t":390,"d":1},{"s":"e1","t":405,"d":0},{"s":"e1","t":420,"d":-5},{"s":"e1","t":428,"d":-12},{"s":"e1","t":433,"d":-25},{"s":"e1","t":437,"d":-39},{"s":"e1","t":442,"d":-28},{"s":"e1","t":449,"d":-15},{"s":"e1","t":468,"d":-15},{"s":"e1","t":488,"d":-9},{"s":"e1","t":507,"d":-6},{"s":"e1","t":530,"d":-4},{"s":"e1","t":560,"d":-2},{"s":"e1","t":600,"d":-1},{"s":"e1","t":800,"d":0},
      {"s":"e2","t":200,"g":100},{"s":"e2","t":250,"g":98.5},{"s":"e2","t":313,"g":97},{"s":"e2","t":352,"g":94},{"s":"e2","t":379,"g":89},{"s":"e2","t":395,"g":84},{"s":"e2","t":402,"g":78},{"s":"e2","t":414,"g":68},{"s":"e2","t":429,"g":58},{"s":"e2","t":445,"g":47},{"s":"e2","t":460,"g":35},{"s":"e2","t":476,"g":25},{"s":"e2","t":495,"g":15},{"s":"e2","t":510,"g":12},{"s":"e2","t":526,"g":9},{"s":"e2","t":545,"g":6},{"s":"e2","t":565,"g":3},{"s":"e2","t":604,"g":1},{"s":"e2","t":650,"g":0.5},{"s":"e2","t":800,"g":0},
      {"s":"e2","t":200,"d":0},{"s":"e2","t":300,"d":-0.5},{"s":"e2","t":360,"d":-2},{"s":"e2","t":371,"d":-9},{"s":"e2","t":390,"d":-15},{"s":"e2","t":406,"d":-21},{"s":"e2","t":411,"d":-30},{"s":"e2","t":416,"d":-44},{"s":"e2","t":421,"d":-30},{"s":"e2","t":433,"d":-19},{"s":"e2","t":449,"d":-13},{"s":"e2","t":468,"d":-15},{"s":"e2","t":485,"d":-19},{"s":"e2","t":499,"d":-22},{"s":"e2","t":515,"d":-19},{"s":"e2","t":530,"d":-13},{"s":"e2","t":540,"d":-8},{"s":"e2","t":560,"d":-3},{"s":"e2","t":600,"d":-1},{"s":"e2","t":800,"d":0},
      {"s":"e3","t":200,"g":99.5},{"s":"e3","t":236,"g":97},{"s":"e3","t":274,"g":93},{"s":"e3","t":298,"g":92},{"s":"e3","t":321,"g":86},{"s":"e3","t":344,"g":76},{"s":"e3","t":360,"g":67},{"s":"e3","t":375,"g":54},{"s":"e3","t":391,"g":44},{"s":"e3","t":410,"g":36},{"s":"e3","t":429,"g":34},{"s":"e3","t":449,"g":32},{"s":"e3","t":476,"g":28},{"s":"e3","t":507,"g":22},{"s":"e3","t":534,"g":13},{"s":"e3","t":565,"g":7},{"s":"e3","t":604,"g":3},{"s":"e3","t":643,"g":1},{"s":"e3","t":700,"g":0},{"s":"e3","t":800,"g":0},
      {"s":"e3","t":200,"d":-2},{"s":"e3","t":300,"d":-3},{"s":"e3","t":360,"d":-3},{"s":"e3","t":366,"d":-5},{"s":"e3","t":369,"d":-20},{"s":"e3","t":371,"d":-38},{"s":"e3","t":380,"d":-30},{"s":"e3","t":391,"d":-25},{"s":"e3","t":403,"d":-22},{"s":"e3","t":412,"d":-10},{"s":"e3","t":418,"d":1},{"s":"e3","t":425,"d":2},{"s":"e3","t":468,"d":0},{"s":"e3","t":490,"d":-3},{"s":"e3","t":499,"d":-6},{"s":"e3","t":510,"d":-4},{"s":"e3","t":526,"d":-3},{"s":"e3","t":546,"d":-1},{"s":"e3","t":565,"d":-2},{"s":"e3","t":584,"d":-3},{"s":"e3","t":620,"d":-2},{"s":"e3","t":700,"d":-1},{"s":"e3","t":800,"d":0}
    ]
  },
  "vconcat": [
    {
      "hconcat": [
        {
          "width": 1085, "height": 890,
          "data": {"name": "curves"},
          "encoding": {"x": {"field": "t", "type": "quantitative", "scale": {"domain": [200, 800]}, "axis": {"values": [200, 300, 400, 500, 600, 700, 800], "labelExpr": "datum.value % 200 === 0 ? datum.label : ''", "title": "Temperature/℃"}}},
          "layer": [
            {"layer": [
              {"transform": [{"filter": "indexof(datum.s,'a')==0 && isValid(datum.g)"}, {"lookup": "s", "from": {"data": {"name": "names"}, "key": "s", "fields": ["n"]}}],
               "mark": {"type": "line", "strokeWidth": 3.5, "interpolate": "monotone"},
               "encoding": {
                 "y": {"field": "g", "type": "quantitative", "scale": {"domain": [-100, 100]}, "axis": {"values": [-100, -75, -50, -25, 0, 25, 50, 75, 100], "labelExpr": "datum.value % 50 === 0 ? datum.label : ''", "title": "TG/%"}},
                 "color": {"field": "n", "type": "nominal", "scale": {"domain": ["Ce₀.₉Mn₀.₁O₂, 24 h", "Ce₀.₉Mn₀.₁O₂, 12 h", "Ce₀.₉Mn₀.₁O₂", "Ce₀.₉₅Mn₀.₀₅O₂, 24 h", "Ce₀.₉₅Mn₀.₀₅O₂, 12 h", "Ce₀.₉₅Mn₀.₀₅O₂"], "range": ["#f9be98", "#f9be98", "#f9be98", "#6e1818", "#6e1818", "#6e1818"]}, "legend": {"title": null, "orient": "bottom-right", "offset": 12}},
                 "strokeDash": {"field": "n", "type": "nominal", "scale": {"domain": ["Ce₀.₉Mn₀.₁O₂, 24 h", "Ce₀.₉Mn₀.₁O₂, 12 h", "Ce₀.₉Mn₀.₁O₂", "Ce₀.₉₅Mn₀.₀₅O₂, 24 h", "Ce₀.₉₅Mn₀.₀₅O₂, 12 h", "Ce₀.₉₅Mn₀.₀₅O₂"], "range": [[14, 9], [22, 8, 4, 8], [1, 0], [14, 9], [22, 8, 4, 8], [1, 0]]}, "legend": {"title": null, "orient": "bottom-right", "offset": 12}}
               }},
              {"data": {"values": [{"t": 258, "g": 82, "l": "TG"}, {"t": 258, "g": -16, "l": "DTG"}, {"t": 244, "g": -92, "l": "(a)"}]},
               "mark": {"type": "text", "font": "Liberation Serif", "fontSize": 48, "color": "black"},
               "encoding": {"y": {"field": "g", "type": "quantitative"}, "text": {"field": "l"}}}
            ]},
            {"transform": [{"filter": "indexof(datum.s,'a')==0 && isValid(datum.d)"}, {"lookup": "s", "from": {"data": {"name": "names"}, "key": "s", "fields": ["n"]}}],
             "mark": {"type": "line", "strokeWidth": 3.5, "interpolate": "monotone"},
             "encoding": {
               "y": {"field": "d", "type": "quantitative", "scale": {"domain": [-150, 150]}, "axis": {"orient": "right", "values": [-150, -125, -100, -75, -50, -25, 0, 25, 50, 75, 100, 125, 150], "labelExpr": "datum.value % 50 === 0 ? datum.label : ''", "title": "DTG/(%min)", "titleAngle": 270, "titleBaseline": "top", "titlePadding": 52}},
               "color": {"field": "n", "type": "nominal"},
               "strokeDash": {"field": "n", "type": "nominal"}
             }}
          ],
          "resolve": {"scale": {"y": "independent"}}
        },
        {
          "width": 1057, "height": 877,
          "data": {"name": "curves"},
          "encoding": {"x": {"field": "t", "type": "quantitative", "scale": {"domain": [200, 800]}, "axis": {"values": [200, 300, 400, 500, 600, 700, 800], "labelExpr": "datum.value % 200 === 0 ? datum.label : ''", "title": "Temperature/℃"}}},
          "layer": [
            {"layer": [
              {"transform": [{"filter": "indexof(datum.s,'b')==0 && isValid(datum.g)"}, {"lookup": "s", "from": {"data": {"name": "names"}, "key": "s", "fields": ["n"]}}],
               "mark": {"type": "line", "strokeWidth": 3.5, "interpolate": "monotone"},
               "encoding": {
                 "y": {"field": "g", "type": "quantitative", "scale": {"domain": [-100, 100]}, "axis": {"values": [-100, -75, -50, -25, 0, 25, 50, 75, 100], "labelExpr": "datum.value % 50 === 0 ? datum.label : ''", "title": "TG/%"}},
                 "color": {"field": "n", "type": "nominal", "scale": {"domain": ["Ce₀.₉₆Na₀.₀₄O₂, 24 h", "Ce₀.₉₆Na₀.₀₄O₂, 12 h", "Ce₀.₉₆Na₀.₀₄O₂", "Ce₀.₉₂Na₀.₀₈O₂, 24 h", "Ce₀.₉₂Na₀.₀₈O₂, 12 h", "Ce₀.₉₂Na₀.₀₈O₂"], "range": ["#f28b8d", "#f28b8d", "#f28b8d", "#ec1c22", "#ec1c22", "#ec1c22"]}, "legend": {"title": null, "orient": "bottom-right", "offset": 12}},
                 "strokeDash": {"field": "n", "type": "nominal", "scale": {"domain": ["Ce₀.₉₆Na₀.₀₄O₂, 24 h", "Ce₀.₉₆Na₀.₀₄O₂, 12 h", "Ce₀.₉₆Na₀.₀₄O₂", "Ce₀.₉₂Na₀.₀₈O₂, 24 h", "Ce₀.₉₂Na₀.₀₈O₂, 12 h", "Ce₀.₉₂Na₀.₀₈O₂"], "range": [[14, 9], [22, 8, 4, 8], [1, 0], [14, 9], [22, 8, 4, 8], [1, 0]]}, "legend": {"title": null, "orient": "bottom-right", "offset": 12}}
               }},
              {"data": {"values": [{"t": 258, "g": 82, "l": "TG"}, {"t": 258, "g": -15, "l": "DTG"}, {"t": 244, "g": -92, "l": "(b)"}]},
               "mark": {"type": "text", "font": "Liberation Serif", "fontSize": 48, "color": "black"},
               "encoding": {"y": {"field": "g", "type": "quantitative"}, "text": {"field": "l"}}}
            ]},
            {"transform": [{"filter": "indexof(datum.s,'b')==0 && isValid(datum.d)"}, {"lookup": "s", "from": {"data": {"name": "names"}, "key": "s", "fields": ["n"]}}],
             "mark": {"type": "line", "strokeWidth": 3.5, "interpolate": "monotone"},
             "encoding": {
               "y": {"field": "d", "type": "quantitative", "scale": {"domain": [-150, 150]}, "axis": {"orient": "right", "values": [-150, -125, -100, -75, -50, -25, 0, 25, 50, 75, 100, 125, 150], "labelExpr": "datum.value % 50 === 0 ? datum.label : ''", "title": "DTG/(%min)", "titleAngle": 270, "titleBaseline": "top", "titlePadding": 52}},
               "color": {"field": "n", "type": "nominal"},
               "strokeDash": {"field": "n", "type": "nominal"}
             }}
          ],
          "resolve": {"scale": {"y": "independent"}}
        }
      ],
      "spacing": 58,
      "resolve": {"scale": {"color": "independent", "strokeDash": "independent"}}
    },
    {
      "hconcat": [
        {
          "width": 1120, "height": 922,
          "data": {"name": "curves"},
          "encoding": {"x": {"field": "t", "type": "quantitative", "scale": {"domain": [200, 800]}, "axis": {"values": [200, 300, 400, 500, 600, 700, 800], "labelExpr": "datum.value % 200 === 0 ? datum.label : ''", "title": "Temperature/℃"}}},
          "layer": [
            {"layer": [
              {"transform": [{"filter": "indexof(datum.s,'c')==0 && isValid(datum.g)"}, {"lookup": "s", "from": {"data": {"name": "names"}, "key": "s", "fields": ["n"]}}],
               "mark": {"type": "line", "strokeWidth": 3.5, "interpolate": "monotone"},
               "encoding": {
                 "y": {"field": "g", "type": "quantitative", "scale": {"domain": [-100, 100]}, "axis": {"values": [-100, -75, -50, -25, 0, 25, 50, 75, 100], "labelExpr": "datum.value % 50 === 0 ? datum.label : ''", "title": "TG/%"}},
                 "color": {"field": "n", "type": "nominal", "scale": {"domain": ["Ce₀.₉Pt₀.₁O₂, 24 h", "Ce₀.₉Pt₀.₁O₂, 12 h", "Ce₀.₉Pt₀.₁O₂", "Ce₀.₉₅Pt₀.₀₅O₂, 24 h", "Ce₀.₉₅Pt₀.₀₅O₂, 12 h", "Ce₀.₉₅Pt₀.₀₅O₂"], "range": ["#6cbf4a", "#6cbf4a", "#6cbf4a", "#f8a01c", "#f8a01c", "#f8a01c"]}, "legend": {"title": null, "orient": "bottom-right", "offset": 12}},
                 "strokeDash": {"field": "n", "type": "nominal", "scale": {"domain": ["Ce₀.₉Pt₀.₁O₂, 24 h", "Ce₀.₉Pt₀.₁O₂, 12 h", "Ce₀.₉Pt₀.₁O₂", "Ce₀.₉₅Pt₀.₀₅O₂, 24 h", "Ce₀.₉₅Pt₀.₀₅O₂, 12 h", "Ce₀.₉₅Pt₀.₀₅O₂"], "range": [[14, 9], [22, 8, 4, 8], [1, 0], [14, 9], [22, 8, 4, 8], [1, 0]]}, "legend": {"title": null, "orient": "bottom-right", "offset": 12}}
               }},
              {"data": {"values": [{"t": 258, "g": 82, "l": "TG"}, {"t": 258, "g": -16, "l": "DTG"}, {"t": 243, "g": -93, "l": "(c)"}]},
               "mark": {"type": "text", "font": "Liberation Serif", "fontSize": 48, "color": "black"},
               "encoding": {"y": {"field": "g", "type": "quantitative"}, "text": {"field": "l"}}}
            ]},
            {"transform": [{"filter": "indexof(datum.s,'c')==0 && isValid(datum.d)"}, {"lookup": "s", "from": {"data": {"name": "names"}, "key": "s", "fields": ["n"]}}],
             "mark": {"type": "line", "strokeWidth": 3.5, "interpolate": "monotone"},
             "encoding": {
               "y": {"field": "d", "type": "quantitative", "scale": {"domain": [-150, 150]}, "axis": {"orient": "right", "values": [-150, -125, -100, -75, -50, -25, 0, 25, 50, 75, 100, 125, 150], "labelExpr": "datum.value % 50 === 0 ? datum.label : ''", "title": "DTG/(%min)", "titleAngle": 270, "titleBaseline": "top", "titlePadding": 52}},
               "color": {"field": "n", "type": "nominal"},
               "strokeDash": {"field": "n", "type": "nominal"}
             }}
          ],
          "resolve": {"scale": {"y": "independent"}}
        },
        {
          "width": 1057, "height": 877,
          "data": {"name": "curves"},
          "encoding": {"x": {"field": "t", "type": "quantitative", "scale": {"domain": [200, 800]}, "axis": {"values": [200, 300, 400, 500, 600, 700, 800], "labelExpr": "datum.value % 200 === 0 ? datum.label : ''", "title": "Temperature/℃"}}},
          "layer": [
            {"layer": [
              {"transform": [{"filter": "indexof(datum.s,'d')==0 && isValid(datum.g)"}, {"lookup": "s", "from": {"data": {"name": "names"}, "key": "s", "fields": ["n"]}}],
               "mark": {"type": "line", "strokeWidth": 3.5, "interpolate": "monotone"},
               "encoding": {
                 "y": {"field": "g", "type": "quantitative", "scale": {"domain": [-100, 100]}, "axis": {"values": [-100, -75, -50, -25, 0, 25, 50, 75, 100], "labelExpr": "datum.value % 50 === 0 ? datum.label : ''", "title": "TG/%"}},
                 "color": {"field": "n", "type": "nominal", "scale": {"domain": ["Ce₀.₆Zr₀.₄O₂, 24 h", "Ce₀.₆Zr₀.₄O₂, 12 h", "Ce₀.₆Zr₀.₄O₂", "Ce₀.₇₆Zr₀.₂₄O₂, 24 h", "Ce₀.₇₆Zr₀.₂₄O₂, 12 h", "Ce₀.₇₆Zr₀.₂₄O₂"], "range": ["#f77f3a", "#f77f3a", "#f77f3a", "#9b9635", "#9b9635", "#9b9635"]}, "legend": {"title": null, "orient": "bottom-right", "offset": 12}},
                 "strokeDash": {"field": "n", "type": "nominal", "scale": {"domain": ["Ce₀.₆Zr₀.₄O₂, 24 h", "Ce₀.₆Zr₀.₄O₂, 12 h", "Ce₀.₆Zr₀.₄O₂", "Ce₀.₇₆Zr₀.₂₄O₂, 24 h", "Ce₀.₇₆Zr₀.₂₄O₂, 12 h", "Ce₀.₇₆Zr₀.₂₄O₂"], "range": [[14, 9], [22, 8, 4, 8], [1, 0], [14, 9], [22, 8, 4, 8], [1, 0]]}, "legend": {"title": null, "orient": "bottom-right", "offset": 12}}
               }},
              {"data": {"values": [{"t": 257, "g": 82, "l": "TG"}, {"t": 257, "g": -15, "l": "DTG"}, {"t": 244, "g": -92, "l": "(d)"}]},
               "mark": {"type": "text", "font": "Liberation Serif", "fontSize": 48, "color": "black"},
               "encoding": {"y": {"field": "g", "type": "quantitative"}, "text": {"field": "l"}}}
            ]},
            {"transform": [{"filter": "indexof(datum.s,'d')==0 && isValid(datum.d)"}, {"lookup": "s", "from": {"data": {"name": "names"}, "key": "s", "fields": ["n"]}}],
             "mark": {"type": "line", "strokeWidth": 3.5, "interpolate": "monotone"},
             "encoding": {
               "y": {"field": "d", "type": "quantitative", "scale": {"domain": [-150, 150]}, "axis": {"orient": "right", "values": [-150, -125, -100, -75, -50, -25, 0, 25, 50, 75, 100, 125, 150], "labelExpr": "datum.value % 50 === 0 ? datum.label : ''", "title": "DTG/(%min)", "titleAngle": 270, "titleBaseline": "top", "titlePadding": 52}},
               "color": {"field": "n", "type": "nominal"},
               "strokeDash": {"field": "n", "type": "nominal"}
             }}
          ],
          "resolve": {"scale": {"y": "independent"}}
        }
      ],
      "spacing": 26,
      "resolve": {"scale": {"color": "independent", "strokeDash": "independent"}}
    },
    {
      "width": 1115, "height": 922,
      "data": {"name": "curves"},
      "encoding": {"x": {"field": "t", "type": "quantitative", "scale": {"domain": [200, 800]}, "axis": {"values": [200, 300, 400, 500, 600, 700, 800], "labelExpr": "datum.value % 200 === 0 ? datum.label : ''", "title": "Temperature/℃"}}},
      "layer": [
        {"layer": [
          {"transform": [{"filter": "indexof(datum.s,'e')==0 && isValid(datum.g)"}, {"lookup": "s", "from": {"data": {"name": "names"}, "key": "s", "fields": ["n"]}}],
           "mark": {"type": "line", "strokeWidth": 4.5, "interpolate": "monotone"},
           "encoding": {
             "y": {"field": "g", "type": "quantitative", "scale": {"domain": [-100, 100]}, "axis": {"values": [-100, -75, -50, -25, 0, 25, 50, 75, 100], "labelExpr": "datum.value % 50 === 0 ? datum.label : ''", "title": "TG/%"}},
             "color": {"field": "n", "type": "nominal", "scale": {"domain": ["CeO₂,24 h", "CeO₂,12 h", "CeO₂"], "range": ["#1a92f2", "#1a92f2", "#1a92f2"]}, "legend": {"title": null, "orient": "none", "legendX": 692, "legendY": 596}},
             "strokeDash": {"field": "n", "type": "nominal", "scale": {"domain": ["CeO₂,24 h", "CeO₂,12 h", "CeO₂"], "range": [[14, 9], [22, 8, 4, 8], [1, 0]]}, "legend": {"title": null, "orient": "none", "legendX": 692, "legendY": 596}}
           }},
          {"data": {"values": [{"t": 258, "g": 82, "l": "TG"}, {"t": 258, "g": -16, "l": "DTG"}, {"t": 243, "g": -91, "l": "(e)"}]},
           "mark": {"type": "text", "font": "Liberation Serif", "fontSize": 48, "color": "black"},
           "encoding": {"y": {"field": "g", "type": "quantitative"}, "text": {"field": "l"}}}
        ]},
        {"transform": [{"filter": "indexof(datum.s,'e')==0 && isValid(datum.d)"}, {"lookup": "s", "from": {"data": {"name": "names"}, "key": "s", "fields": ["n"]}}],
         "mark": {"type": "line", "strokeWidth": 4.5, "interpolate": "monotone"},
         "encoding": {
           "y": {"field": "d", "type": "quantitative", "scale": {"domain": [-150, 150]}, "axis": {"orient": "right", "values": [-150, -125, -100, -75, -50, -25, 0, 25, 50, 75, 100, 125, 150], "labelExpr": "datum.value % 50 === 0 ? datum.label : ''", "title": "DTG/(%min)", "titleAngle": 270, "titleBaseline": "top", "titlePadding": 52}},
           "color": {"field": "n", "type": "nominal"},
           "strokeDash": {"field": "n", "type": "nominal"}
         }}
      ],
      "resolve": {"scale": {"y": "independent"}}
    }
  ],
  "spacing": 254,
  "resolve": {"scale": {"color": "independent", "strokeDash": "independent"}},
  "config": {
    "font": "Liberation Serif",
    "view": {"stroke": "black", "strokeWidth": 5},
    "axis": {"grid": false, "domainColor": "black", "domainWidth": 5, "tickColor": "black", "tickWidth": 3, "tickSize": -14, "labelPadding": 32, "labelFont": "Liberation Serif", "labelFontSize": 46, "labelColor": "black", "labelOverlap": false, "labelFlush": false, "titleFont": "Liberation Serif", "titleFontSize": 56, "titleFontWeight": "normal", "titleColor": "black", "titlePadding": 20},
    "axisX": {"labelPadding": 44, "titlePadding": 22},
    "legend": {"labelFont": "Liberation Serif", "labelFontSize": 46, "labelColor": "black", "labelLimit": 800, "symbolType": "M-2.2,0H2.2", "symbolSize": 1600, "symbolOffset": 22, "symbolStrokeWidth": 6, "strokeColor": "black", "strokeWidth": 5, "fillColor": "white", "padding": 12, "rowPadding": 12, "labelOffset": 56}
  }
}
